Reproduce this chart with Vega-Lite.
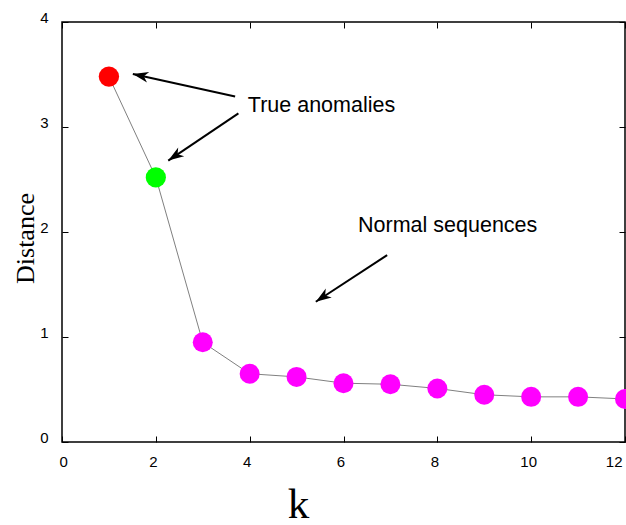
{
  "$schema": "https://vega.github.io/schema/vega-lite/v6.json",
  "autosize": "none",
  "width": 563,
  "height": 420,
  "padding": {"left": 62, "top": 22, "right": 1, "bottom": 83},
  "background": "white",
  "config": {
    "view": {"stroke": "black", "strokeWidth": 1.5},
    "axis": {
      "domain": false,
      "grid": false,
      "tickSize": -6,
      "tickColor": "black",
      "tickWidth": 1,
      "labelFont": "Liberation Sans",
      "labelFontSize": 15,
      "labelColor": "black",
      "titleColor": "black",
      "titleFontWeight": "normal"
    }
  },
  "datasets": {
    "main": [
      {"k": 1, "dist": 3.48, "group": "anomaly A"},
      {"k": 2, "dist": 2.52, "group": "anomaly B"},
      {"k": 3, "dist": 0.95, "group": "normal"},
      {"k": 4, "dist": 0.65, "group": "normal"},
      {"k": 5, "dist": 0.62, "group": "normal"},
      {"k": 6, "dist": 0.56, "group": "normal"},
      {"k": 7, "dist": 0.55, "group": "normal"},
      {"k": 8, "dist": 0.51, "group": "normal"},
      {"k": 9, "dist": 0.45, "group": "normal"},
      {"k": 10, "dist": 0.43, "group": "normal"},
      {"k": 11, "dist": 0.43, "group": "normal"},
      {"k": 12, "dist": 0.41, "group": "normal"}
    ],
    "arrows": [
      {"x": 3.69, "y": 3.29, "x2": 1.51, "y2": 3.505, "angle": 282},
      {"x": 3.76, "y": 3.13, "x2": 2.265, "y2": 2.68, "angle": 236},
      {"x": 6.93, "y": 1.78, "x2": 5.41, "y2": 1.336, "angle": 236}
    ],
    "labels": [
      {"x": 3.96, "y": 3.2, "text": "True anomalies"},
      {"x": 6.31, "y": 2.06, "text": "Normal sequences"}
    ]
  },
  "layer": [
    {
      "data": {"name": "main"},
      "mark": {"type": "line", "color": "#808080", "strokeWidth": 1},
      "encoding": {
        "x": {
          "field": "k", "type": "quantitative",
          "scale": {"domain": [0, 12], "nice": false},
          "axis": {
            "orient": "bottom", "values": [0, 2, 4, 6, 8, 10, 12],
            "labelPadding": 18, "labelOffset": -3,
            "title": "k", "titleFont": "Liberation Serif", "titleFontSize": 43,
            "titleX": 236, "titleY": 75, "titleBaseline": "alphabetic", "titleAlign": "center"
          }
        },
        "y": {
          "field": "dist", "type": "quantitative",
          "scale": {"domain": [0, 4], "nice": false},
          "axis": {
            "orient": "left", "values": [0, 1, 2, 3, 4],
            "labelPadding": 20, "labelOffset": -5,
            "title": "Distance", "titleFont": "Liberation Serif", "titleFontSize": 26,
            "titleAngle": -90, "titleX": -29, "titleY": 216, "titleBaseline": "alphabetic", "titleAlign": "center"
          }
        }
      }
    },
    {
      "data": {"name": "main"},
      "mark": {"type": "circle", "opacity": 1},
      "encoding": {
        "x": {
          "field": "k", "type": "quantitative",
          "axis": {"orient": "top", "values": [0, 2, 4, 6, 8, 10, 12], "labels": false, "title": null}
        },
        "y": {
          "field": "dist", "type": "quantitative",
          "axis": {"orient": "right", "values": [0, 1, 2, 3, 4], "labels": false, "title": null}
        },
        "color": {
          "field": "group", "type": "nominal",
          "scale": {"domain": ["anomaly A", "anomaly B", "normal"], "range": ["#ff0000", "#00ff00", "#ff00ff"]},
          "legend": null
        },
        "size": {
          "field": "group", "type": "nominal",
          "scale": {"domain": ["anomaly A", "anomaly B", "normal"], "range": [415, 400, 227]},
          "legend": null
        }
      }
    },
    {
      "data": {"name": "arrows"},
      "mark": {"type": "rule", "color": "black", "strokeWidth": 2},
      "encoding": {
        "x": {"field": "x", "type": "quantitative", "axis": null},
        "y": {"field": "y", "type": "quantitative", "axis": null},
        "x2": {"field": "x2"},
        "y2": {"field": "y2"}
      }
    },
    {
      "data": {"name": "arrows"},
      "mark": {
        "type": "point", "filled": true, "color": "black", "opacity": 1,
        "shape": "M0,0L0.55,1.6L0,1.15L-0.55,1.6Z", "size": 380
      },
      "encoding": {
        "x": {"field": "x2", "type": "quantitative", "axis": null},
        "y": {"field": "y2", "type": "quantitative", "axis": null},
        "angle": {"field": "angle", "type": "quantitative", "scale": null}
      }
    },
    {
      "data": {"name": "labels"},
      "mark": {"type": "text", "align": "left", "baseline": "middle", "font": "Liberation Sans", "fontSize": 21.5, "color": "black"},
      "encoding": {
        "x": {"field": "x", "type": "quantitative", "axis": null},
        "y": {"field": "y", "type": "quantitative", "axis": null},
        "text": {"field": "text"}
      }
    }
  ],
  "resolve": {"axis": {"x": "independent", "y": "independent"}}
}
